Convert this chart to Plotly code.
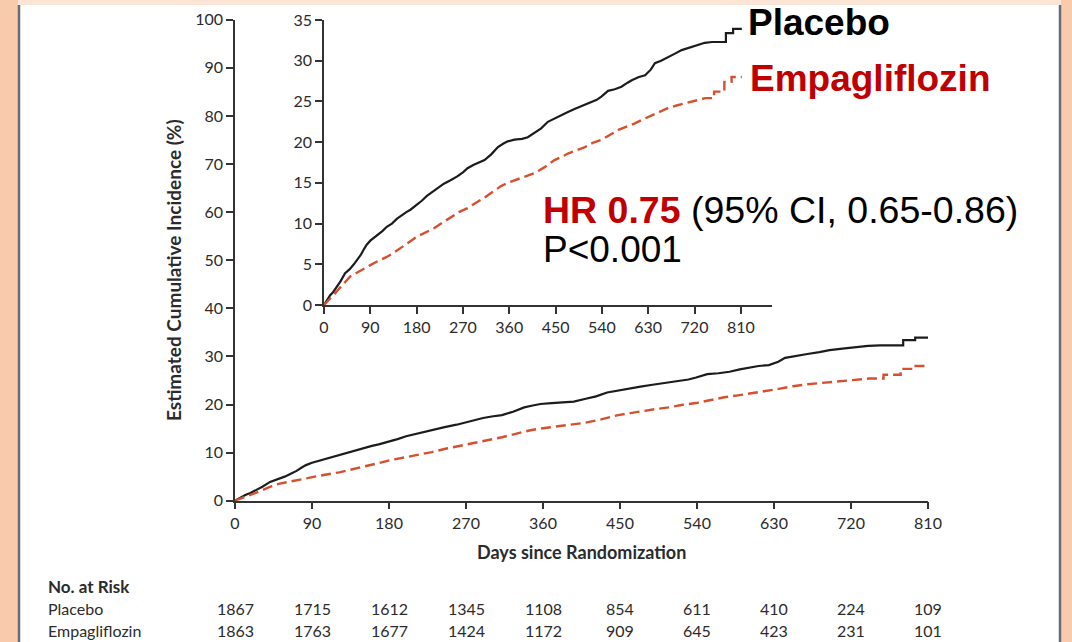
import plotly.graph_objects as go

W, H = 1072, 642

# ---- data ----
placebo_days = [0, 5, 12, 18, 25, 32, 41, 50, 58, 64, 72, 78, 83, 90, 96, 105, 114, 122, 132, 142,
                150, 160, 168, 181, 190, 200, 207, 220, 233, 245, 259, 270, 279, 290, 300, 312, 325,
                338, 348, 357, 370, 385, 396, 410, 422, 435, 450, 462, 474, 488, 500, 515, 530, 539,
                552, 565, 578, 590, 598, 612, 624, 635, 643, 655, 669, 683, 695, 710, 728, 740, 754,
                781, 781, 795, 795, 812]
placebo_pct = [0, 0.5, 1.2, 1.6, 2.2, 2.9, 3.9, 4.4, 5.0, 5.5, 6.2, 6.9, 7.4, 7.9, 8.2, 8.6, 9.1, 9.6,
               10.0, 10.6, 11.0, 11.4, 11.7, 12.3, 12.8, 13.4, 13.7, 14.3, 14.9, 15.3, 15.8, 16.3, 16.8,
               17.2, 17.5, 17.8, 18.5, 19.4, 19.8, 20.1, 20.3, 20.4, 20.6, 21.2, 21.7, 22.5, 23.0, 23.4,
               23.7, 24.1, 24.4, 24.8, 25.2, 25.6, 26.3, 26.5, 26.8, 27.3, 27.6, 28.0, 28.2, 28.9, 29.7,
               30.0, 30.5, 30.9, 31.3, 31.6, 32.0, 32.2, 32.3, 32.3, 33.4, 33.4, 33.9, 33.9]

empa_days = [0, 8, 18, 28, 40, 51, 62, 75, 90, 105, 122, 135, 148, 165, 181, 196, 213, 230, 246, 262,
             279, 295, 312, 328, 344, 357, 370, 390, 409, 428, 448, 462, 474, 490, 507, 522, 539, 556,
             572, 588, 604, 620, 637, 652, 669, 685, 702, 720, 741, 758, 758, 778, 778, 792, 792, 812]
empa_pct = [0, 0.5, 1.2, 1.9, 2.8, 3.5, 3.9, 4.4, 4.9, 5.4, 5.9, 6.4, 7.0, 7.7, 8.4, 8.9, 9.4, 10.1,
            10.8, 11.4, 11.9, 12.5, 13.2, 13.9, 14.6, 15.0, 15.3, 15.8, 16.2, 16.9, 17.8, 18.2, 18.6,
            19.0, 19.4, 19.9, 20.3, 20.9, 21.5, 21.9, 22.3, 22.8, 23.3, 23.8, 24.2, 24.5, 24.8, 25.1,
            25.4, 25.4, 26.2, 26.2, 27.4, 27.4, 28.0, 28.0]

risk_days = [0, 90, 180, 270, 360, 450, 540, 630, 720, 810]
risk_placebo = [1867, 1715, 1612, 1345, 1108, 854, 611, 410, 224, 109]
risk_empa = [1863, 1763, 1677, 1424, 1172, 909, 645, 423, 231, 101]

main_yticks = [0, 10, 20, 30, 40, 50, 60, 70, 80, 90, 100]
inset_yticks = [0, 5, 10, 15, 20, 25, 30, 35]
xticks = [0, 90, 180, 270, 360, 450, 540, 630, 720, 810]

# ---- styles ----
FONT = "Lato, 'Open Sans', sans-serif"
ARIAL = "'Liberation Sans', Arial, sans-serif"
TXT = "#2b2b2b"
BLACK_LINE = "#1c1c1c"
RED_LINE = "#d6502f"
RED_TXT = "#c00000"
PEACH = "#f8cbad"
PEACH_LIGHT = "#fbe5d6"


def px(x):
    return x / W


def py(y):
    return 1 - y / H


fig = go.Figure()

for xa, ya in (("x", "y"), ("x2", "y2")):
    fig.add_trace(go.Scatter(x=placebo_days, y=placebo_pct, mode="lines",
                             line=dict(color=BLACK_LINE, width=2.2), xaxis=xa, yaxis=ya,
                             hoverinfo="skip", cliponaxis=False))
    fig.add_trace(go.Scatter(x=empa_days, y=empa_pct, mode="lines",
                             line=dict(color=RED_LINE, width=2.4, dash="10px,5px"), xaxis=xa, yaxis=ya,
                             hoverinfo="skip", cliponaxis=False))

axis_common = dict(showgrid=False, zeroline=False, showline=True, linecolor="#333333", linewidth=1.5,
                   ticks="outside", ticklen=7, tickwidth=1.5, tickcolor="#333333", automargin=False,
                   tickfont=dict(family=FONT, size=16, color=TXT), fixedrange=True)

# main axes: 0 -> x=235px, 810 -> 928px ; y 0 -> 500.7px, 100 -> 19.7px
fig.update_layout(
    xaxis=dict(domain=[px(235), px(928)], range=[0, 810], tickvals=xticks, anchor="y", **axis_common),
    yaxis=dict(domain=[py(500.7), py(19.7)], range=[0, 100], tickvals=main_yticks, anchor="x",
               **axis_common),
    xaxis2=dict(domain=[px(324), px(771.7)], range=[0, 870], tickvals=xticks, anchor="y2",
                **axis_common),
    yaxis2=dict(domain=[py(305), py(20)], range=[0, 35], tickvals=inset_yticks, anchor="x2",
                **axis_common),
)

shapes = [
    dict(type="rect", xref="paper", yref="paper", x0=px(18), x1=px(1061), y0=0, y1=1,
         fillcolor=PEACH_LIGHT, line_width=0, layer="below"),
    dict(type="rect", xref="paper", yref="paper", x0=px(18), x1=px(1061), y0=0, y1=py(5),
         fillcolor="white", line_width=0, layer="below"),
    dict(type="line", xref="paper", yref="paper", x0=px(19), x1=px(19), y0=0, y1=py(5),
         line=dict(color="#6b6b73", width=2.5), layer="below"),
    dict(type="line", xref="paper", yref="paper", x0=px(1060), x1=px(1060), y0=0, y1=py(5),
         line=dict(color="#6b6b73", width=2.5), layer="below"),
]

hr_text = ("<b><span style='color:" + RED_TXT + "'>HR 0.75</span></b>"
           " (95% CI, 0.65-0.86)")


def note(text, x, y, size, color=TXT, family=FONT, xanchor="left", **kw):
    d = dict(text=text, x=x, y=y, xanchor=xanchor, yanchor="middle", showarrow=False,
             font=dict(family=family, size=size, color=color))
    d.setdefault("xref", "paper")
    d.setdefault("yref", "paper")
    d.update(kw)
    return d


ann = []
# axis titles
ann.append(note("<b>Estimated Cumulative Incidence (%)</b>", px(174), py(270), 19,
                xanchor="center", textangle=-90))
ann.append(note("<b>Days since Randomization</b>", px(581), py(552), 18, xanchor="center"))
# end-of-curve labels (main)
ann.append(note("Placebo", 812, placebo_pct[-1], 17, xref="x", yref="y", xshift=7))
ann.append(note("Empagliflozin", 812, empa_pct[-1], 17, xref="x", yref="y", xshift=7))
# big labels (inset)
ann.append(note("<b>Placebo</b>", px(746), py(23), 37, color="#000000", family=ARIAL))
ann.append(note("<b>Empagliflozin</b>", px(748), py(79), 37, color=RED_TXT, family=ARIAL))
ann.append(note(hr_text, px(541), py(210), 37.5, color="#000000", family=ARIAL))
ann.append(note("P&lt;0.001", px(541), py(250), 37, color="#000000", family=ARIAL))
# risk table
ann.append(note("<b>No. at Risk</b>", px(46), py(586), 17))
ann.append(note("Placebo", px(46), py(608), 16))
ann.append(note("Empagliflozin", px(46), py(630), 16))
for d, a, b in zip(risk_days, risk_placebo, risk_empa):
    ann.append(note(str(a), d, py(608), 16, xref="x", xanchor="center"))
    ann.append(note(str(b), d, py(630), 16, xref="x", xanchor="center"))

fig.update_layout(
    template="none",
    width=W, height=H, autosize=False, margin=dict(l=0, r=0, t=0, b=0, pad=0, autoexpand=False),
    paper_bgcolor=PEACH, plot_bgcolor="rgba(0,0,0,0)", showlegend=False,
    shapes=shapes, annotations=ann,
)

fig.write_html(
    "out.html",
    config={"displayModeBar": False},
    post_script="document.body.style.margin='0';document.body.style.overflow='hidden';"
                "document.body.style.background='" + PEACH + "';",
)
